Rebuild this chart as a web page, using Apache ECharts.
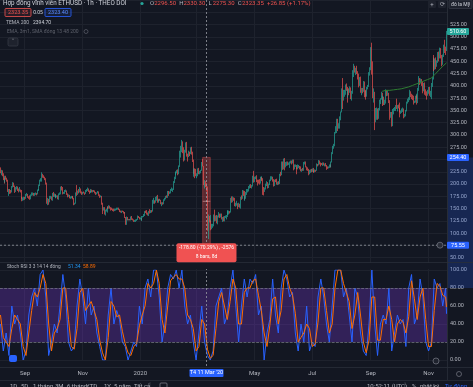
<!DOCTYPE html>
<html><head><meta charset="utf-8">
<script src="https://cdn.jsdelivr.net/npm/echarts@6/dist/echarts.min.js"></script>
<style>html,body{margin:0;padding:0;background:#131722;overflow:hidden}#c{width:473px;height:387px}</style>
</head><body><div id="c"></div>
<script>
// ---------- DATA (daily ETHUSD candles, [high, low, close]; open = previous close) ----------
const startDate = '2019-08-06';
const firstOpen = 232;
const aug2019 = [[234,222,225],[229,218,226],[228,216,220],[222,208,211],[213,201,206],[217,203,215],[217,209,211],[213,205,208],[209,184,187],[190,176,188],[190,180,185],[188,181,184],[196,183,195],[204,193,202],[203,194,196],[197,182,187],[194,184,192],[196,189,194],[195,186,190],[191,183,187],[194,185,188],[189,183,186],[188,170,173],[174,165,169],[173,166,169],[174,167,172]];
const sep2019 = [[174,168,171],[180,170,178],[182,176,179],[180,172,174],[175,170,173],[177,168,170],[179,169,178],[183,176,181],[183,177,181],[182,176,180],[182,176,180],[183,178,181],[182,177,180],[189,179,188],[190,186,189],[199,188,197],[209,196,207],[212,205,210],[224,205,220],[221,213,218],[218,212,215],[215,208,211],[212,199,201],[203,160,166],[172,157,169],[170,158,166],[176,163,174],[176,170,174],[175,167,170],[182,166,180]];
const oct2019 = [[184,174,175],[181,174,180],[180,172,174],[178,171,176],[177,173,176],[177,169,170],[181,168,180],[183,178,180],[195,179,192],[196,187,191],[194,179,181],[184,180,182],[188,180,186],[189,184,187],[187,178,180],[181,173,175],[179,174,177],[178,171,172],[175,170,174],[176,171,175],[176,172,174],[175,169,171],[172,157,160],[162,158,161],[183,160,180],[198,176,179],[187,178,185],[190,181,184],[194,183,190],[191,181,183],[185,178,182]];
const nov2019 = [[184,179,183],[185,181,182],[183,178,181],[188,180,186],[190,184,188],[193,186,191],[191,184,186],[187,180,184],[186,182,184],[190,183,189],[189,183,185],[188,183,187],[188,184,186],[187,181,183],[184,178,180],[183,179,182],[186,181,184],[185,176,178],[179,172,175],[177,173,175],[176,158,161],[162,139,149],[153,146,152],[153,138,140],[148,136,146],[150,144,148],[153,142,152],[155,149,151],[157,150,155],[156,150,152]];
const dec2019 = [[153,146,151],[152,147,149],[150,145,147],[150,144,146],[150,145,148],[150,146,148],[152,147,150],[152,148,151],[152,147,148],[149,143,145],[146,142,143],[146,141,145],[146,143,144],[145,140,141],[143,140,142],[143,131,132],[133,117,122],[134,117,132],[133,126,128],[129,126,128],[129,126,127],[134,126,132],[135,127,128],[130,126,127],[128,123,125],[127,123,125],[128,123,126],[129,125,128],[136,127,134],[135,131,132],[133,128,129]];
const jan2020 = [[132,128,130],[131,126,127],[135,125,134],[135,132,134],[139,133,136],[145,135,144],[146,141,143],[147,138,141],[142,136,138],[145,135,144],[149,140,142],[147,141,146],[147,142,144],[168,144,166],[172,160,166],[167,160,164],[174,162,171],[176,166,174],[178,162,167],[168,162,167],[170,165,169],[170,166,168],[168,159,162],[163,155,162],[163,158,160],[169,159,168],[172,166,170],[176,169,175],[177,172,174],[186,172,184],[186,176,180]];
const feb2020 = [[185,180,183],[190,181,189],[193,186,189],[191,184,189],[206,188,204],[215,202,212],[224,210,222],[226,218,223],[229,222,228],[230,218,223],[238,220,236],[268,235,265],[278,254,268],[290,265,284],[287,263,265],[275,246,259],[270,248,267],[285,264,282],[286,256,259],[262,246,258],[268,255,265],[266,257,262],[275,261,274],[276,260,265],[266,245,248],[250,221,225],[232,215,227],[232,212,226],[231,216,217]];
const mar2020 = [[222,212,218],[232,216,231],[233,220,224],[227,220,224],[229,222,228],[245,227,244],[251,236,237],[237,198,200],[208,191,201],[206,194,200],[202,185,194],[195,105,111],[138,88,133],[135,122,124],[137,122,125],[126,106,110],[119,108,115],[119,111,117],[138,114,135],[148,124,132],[136,125,133],[137,120,122],[136,118,135],[143,132,139],[140,131,136],[140,132,138],[140,128,131],[133,123,131],[134,124,125],[135,124,132],[136,131,133]];
const apr2020 = [[137,128,136],[147,133,141],[145,137,141],[146,138,144],[145,140,143],[172,142,170],[175,162,164],[175,163,172],[173,166,170],[172,155,158],[162,154,158],[166,156,161],[161,149,156],[162,153,157],[160,152,153],[174,150,172],[177,168,171],[188,170,186],[187,176,180],[186,168,171],[177,166,172],[184,170,182],[190,178,185],[190,183,188],[196,185,194],[199,191,197],[200,192,196],[198,191,197],[217,195,215],[227,203,206]];
const may2020 = [[215,204,212],[216,210,214],[218,204,209],[209,197,207],[209,201,205],[210,199,204],[215,201,212],[216,209,212],[214,206,211],[212,178,188],[194,177,186],[193,184,190],[201,189,199],[206,196,203],[204,191,194],[201,192,200],[209,198,207],[216,206,214],[216,209,214],[215,205,209],[210,195,198],[209,196,208],[210,204,207],[211,199,200],[205,198,204],[206,199,201],[210,200,208],[221,207,220],[225,216,219],[246,218,244],[246,229,231]];
const jun2020 = [[252,230,248],[253,228,237],[245,234,244],[246,237,244],[246,238,241],[244,239,242],[246,233,244],[248,242,246],[248,240,244],[250,242,248],[250,228,231],[240,230,237],[240,235,238],[239,231,233],[234,220,231],[240,230,236],[239,233,236],[237,230,235],[236,226,229],[231,225,230],[233,227,228],[245,227,243],[246,240,244],[246,234,236],[236,228,232],[234,227,230],[231,218,222],[229,220,227],[230,223,228],[231,224,226]];
const jul2020 = [[232,225,231],[233,223,226],[228,224,225],[230,224,229],[229,225,228],[242,227,241],[241,236,239],[249,238,247],[248,240,243],[244,236,242],[243,239,240],[244,237,242],[244,238,240],[242,236,241],[243,236,239],[239,229,234],[236,231,233],[236,232,235],[240,233,239],[240,234,236],[246,234,245],[265,244,263],[278,261,275],[282,272,279],[306,277,305],[318,303,311],[333,304,321],[333,308,317],[324,313,318],[338,313,334],[348,330,346]];
const aug2020 = [[395,346,386],[416,353,370],[392,370,386],[392,378,390],[403,382,401],[405,390,395],[398,366,379],[393,376,391],[395,381,390],[399,386,395],[397,373,379],[390,370,386],[432,384,428],[445,418,437],[441,427,433],[437,422,433],[441,424,429],[430,413,423],[425,397,406],[418,400,416],[419,386,389],[396,381,395],[396,385,391],[410,388,408],[409,377,382],[390,378,386],[392,372,382],[398,378,396],[402,393,399],[428,398,428],[438,421,435]];
const sep2020 = [[479,432,477],[488,423,440],[450,375,385],[395,366,386],[388,310,335],[355,326,353],[356,331,353],[354,331,337],[355,333,351],[372,350,368],[375,363,374],[388,372,387],[386,359,366],[380,364,377],[378,361,365],[372,361,365],[393,364,389],[391,379,384],[391,380,385],[386,365,370],[371,331,341],[347,335,344],[347,317,320],[353,318,349],[355,342,352],[357,349,354],[361,349,358],[374,353,354],[361,348,360],[362,354,359]];
const oct2020 = [[366,346,353],[355,336,346],[350,343,347],[354,345,352],[356,347,353],[354,334,340],[343,336,341],[351,338,350],[368,348,365],[374,364,371],[377,367,375],[392,371,387],[389,377,381],[384,373,379],[382,371,378],[380,362,366],[370,365,368],[380,366,377],[384,374,380],[381,362,368],[396,365,392],[420,390,414],[416,402,409],[415,405,412],[414,400,406],[408,385,393],[406,389,404],[407,382,388],[393,380,386],[389,372,383],[392,380,386]];
const nov2020 = [[398,384,396],[398,380,384],[390,377,387],[406,373,402],[418,398,415],[458,413,454],[463,430,435],[456,433,454],[458,434,444],[452,439,449],[469,447,463],[470,450,462],[478,456,475],[477,456,461],[463,440,447],[464,443,460],[484,459,481],[494,467,478],[480,463,472],[512,471,510.6]];

// TEMA 200 (read every 4 days from its first visible point)
const temaStart = '2020-09-13';
const temaStep = 4;
const temaValues = [389,391,391,392,393,394,396,398,401,404,407,410,413,416,424,432,440,447];

// Stoch RSI %K / %D (read every 3 days)
const stochStep = 3;
const stochK = [40,10,30,5,60,40,50,30,0,
  10,50,70,80,60,95,100,70,5,20,
  40,30,60,95,70,20,10,15,60,90,70,
  40,80,50,60,30,15,0,0,50,80,
  40,55,45,20,15,0,10,20,15,60,
  40,80,90,70,100,100,70,20,40,80,
  95,90,100,80,100,60,40,50,20,0,
  30,60,20,5,0,10,60,70,80,40,
  50,80,100,60,20,60,90,70,90,85,
  95,50,60,0,30,45,90,50,30,80,
  100,90,70,75,30,10,40,20,60,10,
  20,15,70,90,70,40,20,60,100,100,100,
  70,80,50,20,80,70,30,10,5,40,
  100,40,5,40,50,40,80,10,30,50,
  40,45,15,80,95,40,50,90,70,20,
  10,20,90,80,85,60,80];
const stochD = [50,25,20,15,35,50,45,40,15,
  5,30,55,75,70,80,95,85,40,10,
  30,35,45,80,80,45,15,12,35,75,80,
  55,60,65,55,45,22,8,0,25,65,
  60,48,50,32,18,8,5,15,18,38,
  50,60,85,80,85,100,85,45,30,60,
  88,92,95,90,90,80,50,45,35,10,
  15,45,40,12,2,5,35,65,75,60,
  45,65,90,80,40,40,75,80,80,88,
  90,72,55,30,15,38,68,70,40,55,
  90,95,80,72,52,20,25,30,40,35,
  15,18,42,80,80,55,30,40,80,100,100,
  85,75,65,35,50,75,50,20,8,22,
  70,70,22,22,45,45,60,45,20,40,
  45,42,30,48,88,68,45,70,80,45,
  15,15,55,85,82,72,70];
const stochLastK = 51.34, stochLastD = 58.89;
const bandUpper = 80, bandLower = 20;

// time-axis tick labels
const tickDates  = ['2019-09-01','2019-11-01','2020-01-01','2020-03-01','2020-05-01','2020-07-01','2020-09-01','2020-11-01'];
const tickLabels = ['Sep','Nov','2020','Mar','May','Jul','Sep','Nov'];

// measure tool + crosshair
const measureFrom = '2020-03-07', measureTo = '2020-03-15';
const measureHigh = 254.40, measureLow = 75.55;
const measureText1 = '-178.80 (-70.29%) , -2576';
const measureText2 = '8 bars, 8d';
const crossDate = '2020-03-11', crossPrice = 75.55;
const crossDateLabel = "T4 11 Mar '20";

// header texts
const headerTitle = 'Hợp đồng vĩnh viễn ETHUSD · 1h · THEO DÕI';
const ohlcHeader = [['O','2296.50'],['H','2330.30'],['L','2275.30'],['C','2323.35'],['','+26.85 (+1.17%)']];
const bidText = '2323.35', spreadText = '0.05', askText = '2323.40';
const temaLegend = ['TEMA 200', '2394.70'];
const emaLegend = 'EMA, 3m1, SMA đóng 13 48 200';
const stochLegend = 'Stoch RSI 3 3 14 14 đóng';
const toolbarLeft = [['1D',10],['5D',21],['1 tháng',33],['3M',55],['6 tháng',67],['YTD',86],['1Y',104],['5 năm',114],['Tất cả',134]];
const toolbarRight = [['10:52:11 (UTC)',367],['%',412],['nhật ký',420],['Tự động',445]];

// ---------- BUILD ----------
const rows = [].concat(aug2019,sep2019,oct2019,nov2019,dec2019,jan2020,feb2020,mar2020,apr2020,may2020,jun2020,jul2020,aug2020,sep2020,oct2020,nov2020);
const dates = [];
{ let t = Date.parse(startDate + 'T00:00:00Z'); for (let i = 0; i < rows.length; i++) { dates.push(new Date(t).toISOString().slice(0,10)); t += 86400000; } }
const candles = []; { let prev = firstOpen; rows.forEach(r => { candles.push([prev, r[2], r[1], r[0]]); prev = r[2]; }); }
const N = dates.length;
const temaData = new Array(N).fill(null);
{ const s = dates.indexOf(temaStart); temaValues.forEach((v,i) => { const k = Math.min(N-1, s + i*temaStep); temaData[k] = v; }); }
const kData = new Array(N).fill(null), dData = new Array(N).fill(null);
stochK.forEach((v,i) => { kData[i*stochStep] = v; });
stochD.forEach((v,i) => { dData[i*stochStep] = v; });
kData[N-1] = stochLastK; dData[N-1] = stochLastD;
const lastClose = rows[rows.length-1][2];

const BG = '#131722', GRID = '#1e222d', TXT = '#b2b5be', UP = '#26a69a', DOWN = '#ef5350', BLUE = '#2962ff';
const FONT = 'Roboto, "Noto Sans", sans-serif';
const isTick = (i, v) => tickDates.indexOf(v) >= 0;

const chart = echarts.init(document.getElementById('c'), null, {renderer: 'canvas'});
const option = {
  backgroundColor: BG,
  animation: false,
  textStyle: {fontFamily: FONT},
  grid: [
    {left: 0, top: -8, width: 447, height: 278},
    {left: 0, top: 270, width: 447, height: 90}
  ],
  xAxis: [
    {type: 'category', gridIndex: 0, data: dates, boundaryGap: true,
     axisLine: {show: false}, axisTick: {show: false}, axisLabel: {show: false},
     splitLine: {show: true, interval: isTick, lineStyle: {color: GRID, width: 1}}},
    {type: 'category', gridIndex: 1, data: dates, boundaryGap: true,
     axisLine: {show: false}, axisTick: {show: false},
     axisLabel: {show: true, interval: isTick, color: TXT, fontSize: 6, margin: 10,
                 formatter: v => tickLabels[tickDates.indexOf(v)] || ''},
     splitLine: {show: true, interval: isTick, lineStyle: {color: GRID, width: 1}}}
  ],
  yAxis: [
    {type: 'value', gridIndex: 0, position: 'right', min: 25, max: 575, interval: 25,
     axisLine: {show: false}, axisTick: {show: false},
     axisLabel: {color: TXT, fontSize: 5.5, margin: 3, formatter: v => (v <= 25 || v >= 550) ? '' : v.toFixed(2)},
     splitLine: {lineStyle: {color: GRID, width: 1}}},
    {type: 'value', gridIndex: 1, position: 'right', min: 0, max: 100, interval: 20,
     axisLine: {show: false}, axisTick: {show: false},
     axisLabel: {color: TXT, fontSize: 5.5, margin: 3, formatter: v => v.toFixed(2)},
     splitLine: {lineStyle: {color: GRID, width: 1}}}
  ],
  series: [
    {type: 'candlestick', xAxisIndex: 0, yAxisIndex: 0, data: candles, barWidth: 1,
     itemStyle: {color: UP, color0: DOWN, borderColor: UP, borderColor0: DOWN, borderWidth: 0.7},
     markArea: {silent: true, itemStyle: {color: 'rgba(239,83,80,0.32)', borderColor: 'rgba(239,83,80,0.8)', borderWidth: 0.5},
       data: [[{coord: [measureFrom, measureHigh]}, {coord: [measureTo, measureLow]}]]}},
    {type: 'line', xAxisIndex: 0, yAxisIndex: 0, data: temaData, connectNulls: true, showSymbol: false,
     lineStyle: {color: '#2e7d32', width: 1}, z: 3},
    {type: 'line', xAxisIndex: 1, yAxisIndex: 1, data: kData, connectNulls: true, showSymbol: false,
     lineStyle: {color: BLUE, width: 1},
     markArea: {silent: true, itemStyle: {color: 'rgba(115,55,200,0.33)'}, data: [[{yAxis: bandUpper}, {yAxis: bandLower}]]},
     markLine: {silent: true, symbol: 'none', label: {show: false}, lineStyle: {color: '#787b86', type: 'dashed', width: 0.7},
       data: [{yAxis: bandUpper}, {yAxis: bandLower}]}},
    {type: 'line', xAxisIndex: 1, yAxisIndex: 1, data: dData, connectNulls: true, showSymbol: false,
     lineStyle: {color: '#ff6d00', width: 1}}
  ]
};
chart.setOption(option);

// ---------- OVERLAY (UI chrome positioned through the chart's own scales) ----------
const P0 = (x, y) => chart.convertToPixel({gridIndex: 0}, [x, y]);
const P1 = (x, y) => chart.convertToPixel({gridIndex: 1}, [x, y]);
const cx = P0(crossDate, crossPrice)[0];
const cy = P0(crossDate, crossPrice)[1];
const yHigh = P0(measureFrom, measureHigh)[1];
const y80 = P1(crossDate, bandUpper)[1];
const mx0 = P0(measureFrom, measureHigh)[0], mx1 = P0(measureTo, measureLow)[0];
const mMid = (mx0 + mx1) / 2;
const yLast = P0(dates[N-1], lastClose)[1];
const T = (x, y, text, color, size, extra) => Object.assign({type: 'text', x, y, z: 100,
  style: Object.assign({text, fill: color, font: `${size || 6}px ${FONT}`, textVerticalAlign: 'middle'}, extra || {})});
const R = (x, y, w, h, fill, stroke, r) => ({type: 'rect', z: 90, shape: {x, y, width: w, height: h, r: r || 0},
  style: {fill: fill || 'none', stroke: stroke || null, lineWidth: 0.8}});
const L = (x1, y1, x2, y2, color, dash) => ({type: 'line', z: 80, shape: {x1, y1, x2, y2},
  style: {stroke: color, lineWidth: 0.8, lineDash: dash || null}});

const g = [];
g.push(L(0, 262.5, 473, 262.5, '#2a2e39'));
g.push(L(447.5, 0, 447.5, 380, '#2a2e39'));
g.push(L(0, 367.5, 473, 367.5, '#2a2e39'));
g.push(L(0, 380.5, 473, 380.5, '#2a2e39'));
g.push(R(0, 263, 447, 6, BG));
g.push(Object.assign(R(448, yHigh, 25, y80 - yHigh, 'rgba(41,98,255,0.22)'), {z: 5}));
g.push(L(cx, 0, cx, 367, '#9598a1', [2, 2]));
g.push(L(0, cy, 447, cy, '#9598a1', [2, 2]));
g.push(L(mx0, (yHigh + cy) / 2, mx1, (yHigh + cy) / 2, 'rgba(255,200,200,0.6)'));
g.push(R(mMid - 30, cy - 2, 60, 19, '#f05252', null, 2));
g.push(T(mMid, cy + 3, measureText1, '#ffffff', 5, {textAlign: 'center'}));
g.push(T(mMid, cy + 11.5, measureText2, '#ffffff', 5, {textAlign: 'center'}));
g.push(R(447, yLast - 3.5, 22, 7, UP, null, 1));
g.push(T(458, yLast, lastClose.toFixed(2), '#ffffff', 5.5, {textAlign: 'center'}));
g.push(R(447, yHigh - 3.5, 22, 7, BLUE, null, 1));
g.push(T(458, yHigh, measureHigh.toFixed(2), '#ffffff', 5.5, {textAlign: 'center'}));
g.push(R(447, cy - 3.5, 22, 7, BLUE, null, 1));
g.push(T(458, cy, crossPrice.toFixed(2), '#ffffff', 5.5, {textAlign: 'center'}));
g.push({type: 'circle', z: 95, shape: {cx: 440, cy: cy, r: 3}, style: {fill: '#2a2e39', stroke: '#787b86', lineWidth: 0.7}});
g.push(R(cx - 17, 369, 34, 8, BLUE, null, 1));
g.push(T(cx, 373, crossDateLabel, '#ffffff', 5.5, {textAlign: 'center'}));
g.push(T(3, 3.5, headerTitle, '#d1d4dc', 6.3));
g.push({type: 'circle', z: 100, shape: {cx: 142, cy: 3.5, r: 1.6}, style: {fill: UP}});
{ let x = 150; ohlcHeader.forEach(([k, v]) => { if (k) { g.push(T(x, 3.5, k, '#b2b5be', 6)); x += 4.2; }
    g.push(T(x, 3.5, v, DOWN, 6)); x += v.length * 3.15 + 3; }); }
g.push(R(5, 8.5, 26, 8, 'rgba(239,83,80,0.1)', DOWN, 1));
g.push(T(18, 12.5, bidText, DOWN, 5.5, {textAlign: 'center'}));
g.push(T(38, 12.5, spreadText, '#d1d4dc', 5, {textAlign: 'center'}));
g.push(R(45, 8.5, 26, 8, 'rgba(41,98,255,0.1)', BLUE, 1));
g.push(T(58, 12.5, askText, '#5b8cff', 5.5, {textAlign: 'center'}));
g.push(T(6, 23, temaLegend[0], '#b2b5be', 5));
g.push(T(33, 23, temaLegend[1], '#d1d4dc', 5));
g.push(T(7, 31.5, emaLegend, '#5d606b', 5));
g.push({type: 'circle', z: 100, shape: {cx: 86, cy: 31.5, r: 2}, style: {fill: 'none', stroke: '#5d606b', lineWidth: 0.7}});
g.push(R(8, 38, 10, 8, '#1e222d', '#363a45', 1.5));
g.push(T(13, 42.5, '˄', '#b2b5be', 7, {textAlign: 'center'}));
g.push(R(428, 1, 8, 7, '#1e222d', null, 1));
g.push(T(432, 4.5, '+', '#b2b5be', 6, {textAlign: 'center'}));
g.push(R(438, 1, 8, 7, '#1e222d', null, 1));
g.push(T(442, 4.5, '⟳', '#b2b5be', 5.5, {textAlign: 'center'}));
g.push(R(449, 0, 23, 8.5, '#1e222d', '#363a45', 1));
g.push(T(460.5, 4.5, 'đô la Mỹ', '#d1d4dc', 5, {textAlign: 'center'}));
g.push(T(7, 267, stochLegend, '#b2b5be', 4.8));
g.push(T(68, 267, stochLastK.toFixed(2), '#2196f3', 5));
g.push(T(83, 267, stochLastD.toFixed(2), '#ff6d00', 5));
g.push(R(9, 355, 8, 7, BLUE, null, 2));
g.push({type: 'circle', z: 100, shape: {cx: 436, cy: 361, r: 3}, style: {fill: '#1e222d', stroke: '#787b86', lineWidth: 0.7}});
g.push({type: 'circle', z: 100, shape: {cx: 459, cy: 374, r: 2.5}, style: {fill: 'none', stroke: '#787b86', lineWidth: 0.7}});
toolbarLeft.forEach(([t, x]) => g.push(T(x, 386.5, t, '#b2b5be', 6)));
g.push(L(150, 382, 150, 387, '#363a45'));
g.push(R(160, 383, 7, 5, 'none', '#787b86', 1));
toolbarRight.forEach(([t, x], i) => g.push(T(x, 386.5, t, i === 3 ? '#2962ff' : '#b2b5be', 6)));
g.push(L(405, 382, 405, 387, '#363a45'));
chart.setOption({graphic: g});
</script>
</body></html>
